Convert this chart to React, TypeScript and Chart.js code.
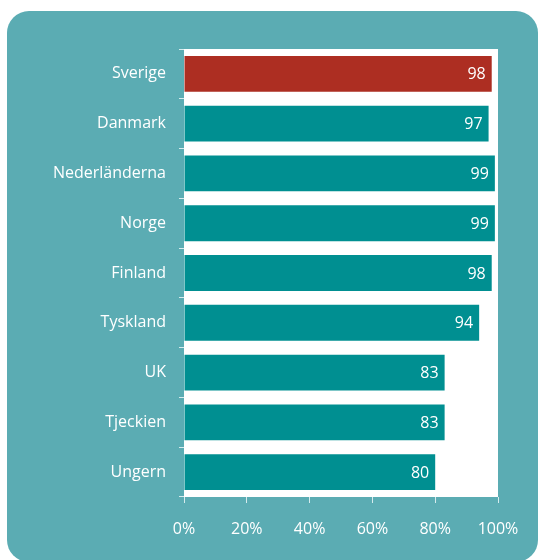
import React, { useEffect, useRef } from "react";
import { Chart, registerables } from "chart.js";

Chart.register(...registerables);

const categories = ["Sverige", "Danmark", "Nederländerna", "Norge", "Finland", "Tyskland", "UK", "Tjeckien", "Ungern"];
const values = [98, 97, 99, 99, 98, 94, 83, 83, 80];
const barColors = ["#ad2e22", "#008f91", "#008f91", "#008f91", "#008f91", "#008f91", "#008f91", "#008f91", "#008f91"];
const xTicks = [0, 20, 40, 60, 80, 100];

const FONT = "'Open Sans', 'Noto Sans', sans-serif";

const plotBg = {
  id: "plotBg",
  beforeDraw(chart: any) {
    const { ctx, chartArea } = chart;
    ctx.save();
    ctx.fillStyle = "#ffffff";
    ctx.fillRect(chartArea.left, chartArea.top, chartArea.right - chartArea.left, chartArea.bottom - chartArea.top);
    ctx.restore();
  },
};

const valueLabels = {
  id: "valueLabels",
  afterDatasetsDraw(chart: any) {
    const { ctx } = chart;
    const meta = chart.getDatasetMeta(0);
    ctx.save();
    ctx.fillStyle = "#ffffff";
    ctx.font = `16px ${FONT}`;
    ctx.textAlign = "right";
    ctx.textBaseline = "middle";
    meta.data.forEach((bar: any, i: number) => {
      ctx.fillText(String(values[i]), bar.x - 6, bar.y + 1);
    });
    ctx.restore();
  },
};

export default function App() {
  const ref = useRef<HTMLCanvasElement>(null);
  useEffect(() => {
    if (!ref.current) return;
    const chart = new Chart(ref.current, {
      type: "bar",
      data: {
        labels: categories,
        datasets: [
          {
            data: values,
            backgroundColor: barColors,
            barPercentage: 0.72,
            categoryPercentage: 1,
          },
        ],
      },
      options: {
        indexAxis: "y",
        animation: false,
        responsive: false,
        maintainAspectRatio: false,
        layout: { padding: { top: 49, right: 42, left: 0, bottom: 0 } },
        plugins: { legend: { display: false }, tooltip: { enabled: false } },
        scales: {
          x: {
            min: 0,
            max: 100,
            afterBuildTicks: (axis: any) => {
              axis.ticks = xTicks.map((v) => ({ value: v }));
            },
            afterFit: (axis: any) => {
              axis.height = 63;
            },
            grid: { drawOnChartArea: false, tickLength: 6, color: "#d6ecee" },
            border: { display: false },
            ticks: {
              color: "#ffffff",
              font: { size: 16, family: FONT },
              padding: 17,
              callback: (v: any) => `${v}%`,
            },
          },
          y: {
            afterFit: (axis: any) => {
              axis.width = 184;
            },
            grid: { drawOnChartArea: false, tickLength: 5, color: "#d6ecee", offset: true },
            border: { display: false },
            ticks: {
              color: "#ffffff",
              font: { size: 16, family: FONT },
              padding: 13,
            },
          },
        },
      },
      plugins: [plotBg, valueLabels],
    });
    return () => chart.destroy();
  }, []);

  return (
    <div style={{ position: "absolute", left: 0, top: 0, width: 540, height: 560, overflow: "hidden", background: "#ffffff" }}>
      <div
        style={{
          position: "absolute",
          left: 7,
          top: 11,
          width: 531,
          height: 551,
          background: "#5bacb3",
          borderRadius: 22,
        }}
      />
      <canvas ref={ref} width={540} height={560} style={{ position: "absolute", left: 0, top: 0 }} />
    </div>
  );
}
